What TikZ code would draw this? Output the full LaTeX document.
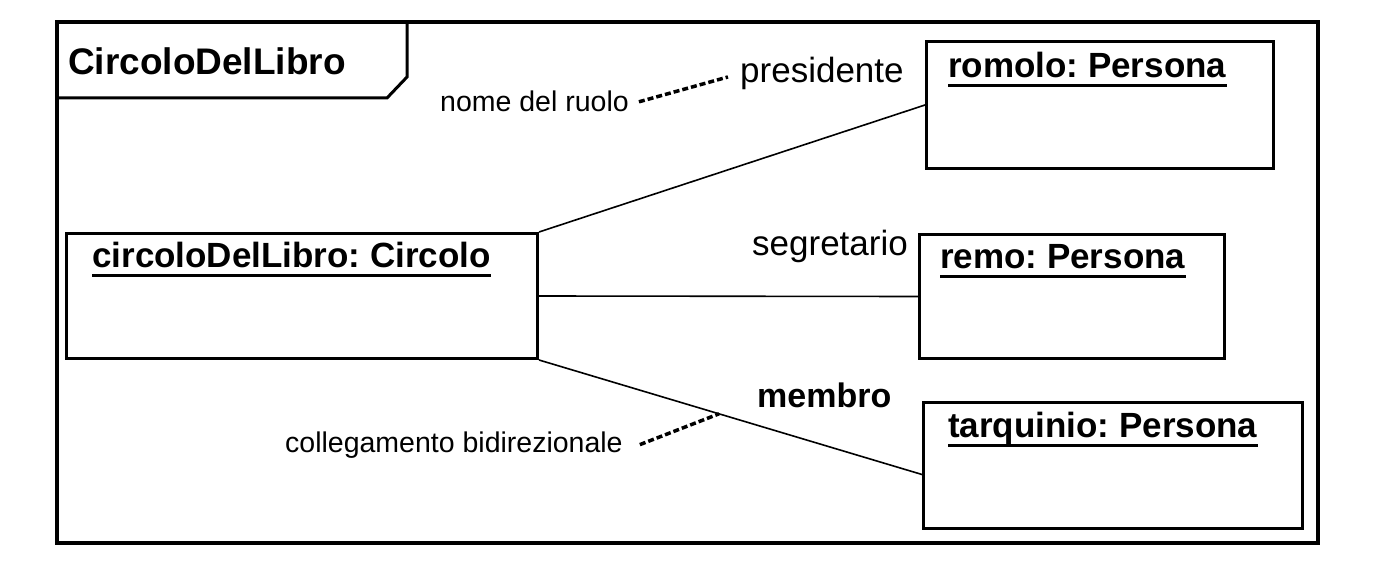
\documentclass[tikz,border=0pt]{standalone}
\usepackage{fontspec}
\setmainfont{Liberation Sans}
\frenchspacing

\begin{document}
\begin{tikzpicture}[x=1pt, y=-1pt, obj/.style = {draw, line width=3pt, anchor=north west, inner sep=0pt}, title/.style = {anchor=base west, inner sep=0pt, font=\fontsize{35}{42}\selectfont\bfseries}, role/.style = {anchor=base west, inner sep=0pt, font=\fontsize{35}{42}\selectfont}, note/.style = {anchor=base west, inner sep=0pt, font=\fontsize{28.5}{34}\selectfont}, link/.style = {line width=1.6pt}, tag/.style = {line width=3.5pt, dash pattern=on 6pt off 3pt}]
\useasboundingbox (0,0) rectangle (1378,580);
\draw[line width=4.5pt] (57,22) rectangle (1318,543);
\draw[line width=3pt] (57,98) -- (387,98) -- (407,77) -- (407,22);
\node[title, font=\fontsize{37}{44}\selectfont\bfseries] (frame) at (68,75) {CircoloDelLibro};

\node[obj, minimum width=471pt, minimum height=125pt] (circolo) at (65,232) {};
\node[obj, minimum width=347pt, minimum height=127pt] (romolo) at (925,40) {};
\node[obj, minimum width=305pt, minimum height=124pt] (remo) at (918,233) {};
\node[obj, minimum width=379pt, minimum height=126pt] (tarquinio) at (922,401) {};

\node[title] (circolo-t) at (92,267) {circoloDelLibro: Circolo};
\node[title] (romolo-t) at (948,78) {romolo: Persona};
\node[title] (remo-t) at (940,268) {remo: Persona};
\node[title] (tarquinio-t) at (948,437) {tarquinio: Persona};
\foreach \t in {circolo-t, romolo-t, remo-t, tarquinio-t}
  \draw[line width=3pt] ([yshift=-8pt]\t.base west) -- ([yshift=-8pt]\t.base east);

\node[role] (presidente) at (740,83) {presidente};
\node[role] (segretario) at (752,255) {segretario};
\node[role, font=\fontsize{34}{41}\selectfont\bfseries] (membro) at (757,407) {membro};
\node[note] (ruolo) at (440,112) {nome del ruolo};
\node[note] (collegamento) at (285,452) {collegamento bidirezionale};

\draw[link] (circolo.north east) -- (romolo.west);
\draw[link] (circolo.east) -- (remo.west);
\draw[link] (circolo.south east) -- coordinate[pos=0.47] (hit) ([yshift=-9pt]tarquinio.west);

\draw[tag] ([xshift=10pt]ruolo.east) -- ([xshift=-12pt, yshift=-3pt]presidente.west);
\draw[tag] ([xshift=17pt]collegamento.east) -- (hit);
\end{tikzpicture}
\end{document}
